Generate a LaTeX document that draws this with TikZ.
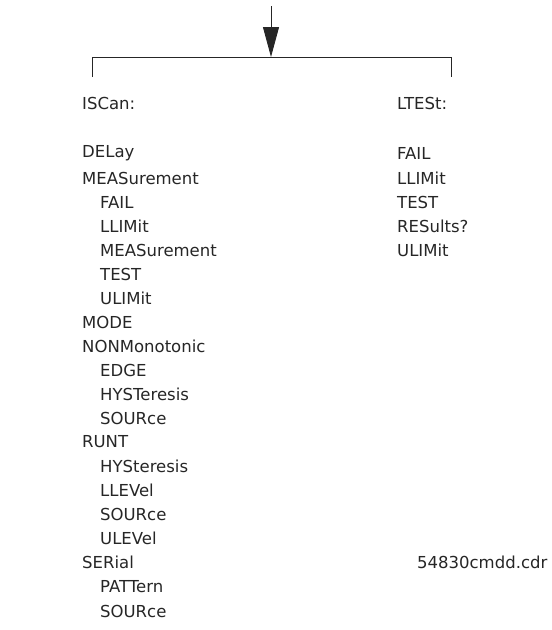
\documentclass[tikz,border=0pt]{standalone}
\usepackage{fontspec}
\setmainfont{DejaVu Sans}
\usetikzlibrary{arrows.meta}
\begin{document}
\begin{tikzpicture}[x=1pt,y=-1pt,
  item/.style={anchor=west,inner sep=0pt,font=\fontsize{16.5}{19}\selectfont,text=black!85},
  wire/.style={line width=0.9pt,black!85}]
\useasboundingbox (0,0) rectangle (552,630);
\coordinate (top) at (271,6);
\coordinate (mid) at (271,57);
\coordinate (l) at (92,57);
\coordinate (r) at (451,57);
\coordinate (lb) at (92,77);
\coordinate (rb) at (451,77);
\draw[wire,-{Triangle[length=30pt,width=16pt]}] (top) -- (mid);
\draw[wire] (lb) -- (l) -- (r) -- (rb);
\foreach \t/\x/\y [count=\i] in {ISCan:/82/103,DELay/82/153,MEASurement/82/178,FAIL/100/202,LLIMit/100/226,MEASurement/100/250,TEST/100/274,ULIMit/100/298,MODE/82/322,NONMonotonic/82/346,EDGE/100/370,HYSTeresis/100/394,SOURce/100/418,RUNT/82/442,HYSteresis/100/466,LLEVel/100/490,SOURce/100/514,ULEVel/100/538,SERial/82/562,PATTern/100/587,SOURce/100/611}
  \node[item] (a\i) at (\x,\y) {\t};
\foreach \t/\y [count=\i] in {LTESt:/103,FAIL/153,LLIMit/178,TEST/202,RESults?/226,ULIMit/250}
  \node[item] (b\i) at (397,\y) {\t};
\node[item,font=\fontsize{16.5}{19}\selectfont] (file) at (417,562) {54830cmdd.cdr};
\end{tikzpicture}
\end{document}
